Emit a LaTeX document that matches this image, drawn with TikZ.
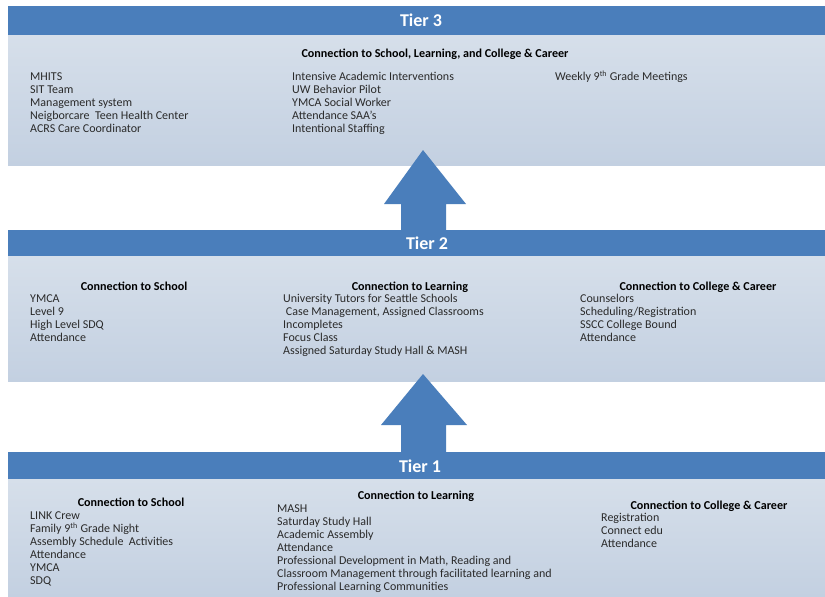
\documentclass[tikz,border=0pt]{standalone}
\usepackage{fontspec}
\setmainfont{Carlito}
\usepackage{xcolor}
\definecolor{tierblue}{HTML}{4A7EBB}
\definecolor{bodytop}{HTML}{D6DFEA}
\definecolor{bodybot}{HTML}{C3D0E1}
\definecolor{itemgray}{HTML}{2A2A2A}
\begin{document}
\begin{tikzpicture}[x=1pt,y=-1pt,
    tierbar/.style={fill=tierblue},
    tierbody/.style={top color=bodytop,bottom color=bodybot,draw=none},
    tiertitle/.style={anchor=base,inner sep=0,text=white,font=\fontsize{18}{22}\selectfont\bfseries},
    colhead/.style={anchor=base,inner sep=0,font=\fontsize{12.1}{13}\selectfont\bfseries},
    item/.style={anchor=base west,inner sep=0,text=itemgray,font=\fontsize{12}{13}\selectfont},
    uparrow/.style={fill=tierblue}]
  \useasboundingbox (0,0) rectangle (825,597);
  % tier 3
  \fill[tierbody] (8,35) rectangle (825,165);
  \fill[tierbar] (8,6) rectangle (825,35);
  \node[tiertitle] (t3) at (421,27) {Tier 3};
  \node[colhead] (t3head) at (435,57.5) {Connection to School, Learning, and College \& Career};
  \foreach \t [count=\i] in {MHITS,SIT Team,Management system,Neigborcare\ \ Teen Health Center,ACRS Care Coordinator}
    \node[item] (t3a\i) at (30,{80.5+13*(\i-1)}) {\t};
  \foreach \t [count=\i] in {Intensive Academic Interventions,UW Behavior Pilot,YMCA Social Worker,Attendance SAA’s,Intentional Staffing}
    \node[item] (t3b\i) at (292,{80.5+13*(\i-1)}) {\t};
  \node[item] (t3c1) at (555,80.5) {Weekly 9\textsuperscript{th} Grade Meetings};
  % tier 2
  \fill[tierbody] (8,256) rectangle (825,381);
  \fill[tierbar] (8,230) rectangle (825,256);
  % arrow 3 <- 2
  \fill[uparrow] (401,230) -- (401,204) -- (384,204) -- (423,150) -- (466,204) -- (446,204) -- (446,230) -- cycle;
  \node[tiertitle] (t2) at (427,249) {Tier 2};
  \node[colhead] (t2heada) at (134,290.5) {Connection to School};
  \node[colhead] (t2headb) at (410,290.5) {Connection to Learning};
  \node[colhead] (t2headc) at (698,290.5) {Connection to College \& Career};
  \foreach \t [count=\i] in {YMCA,Level 9,High Level SDQ,Attendance}
    \node[item] (t2a\i) at (30,{302.5+13*(\i-1)}) {\t};
  \foreach \t [count=\i] in {University Tutors for Seattle Schools,{\ Case Management, Assigned Classrooms},Incompletes,Focus Class,Assigned Saturday Study Hall \& MASH}
    \node[item] (t2b\i) at (283,{302.5+13*(\i-1)}) {\t};
  \foreach \t [count=\i] in {Counselors,Scheduling/Registration,SSCC College Bound,Attendance}
    \node[item] (t2c\i) at (580,{302.5+13*(\i-1)}) {\t};
  % tier 1
  \fill[tierbody] (8,479) rectangle (825,597);
  \fill[tierbar] (8,452) rectangle (825,479);
  % arrow 2 <- 1
  \fill[uparrow] (401,452) -- (401,425) -- (381,425) -- (423,374) -- (467,425) -- (446,425) -- (446,452) -- cycle;
  \node[tiertitle] (t1) at (420,472) {Tier 1};
  \node[colhead] (t1heada) at (131,506.5) {Connection to School};
  \node[colhead] (t1headb) at (416,499.5) {Connection to Learning};
  \node[colhead] (t1headc) at (709,509.5) {Connection to College \& Career};
  \foreach \t [count=\i] in {LINK Crew,Family 9\textsuperscript{th} Grade Night,Assembly Schedule\ \ Activities,Attendance,YMCA,SDQ}
    \node[item] (t1a\i) at (30,{519.5+13*(\i-1)}) {\t};
  \foreach \t [count=\i] in {MASH,Saturday Study Hall,Academic Assembly,Attendance,{Professional Development in Math, Reading and},Classroom Management through facilitated learning and,Professional Learning Communities}
    \node[item] (t1b\i) at (277,{512.5+13*(\i-1)}) {\t};
  \foreach \t [count=\i] in {Registration,Connect edu,Attendance}
    \node[item] (t1c\i) at (601,{521.5+13*(\i-1)}) {\t};
\end{tikzpicture}
\end{document}
